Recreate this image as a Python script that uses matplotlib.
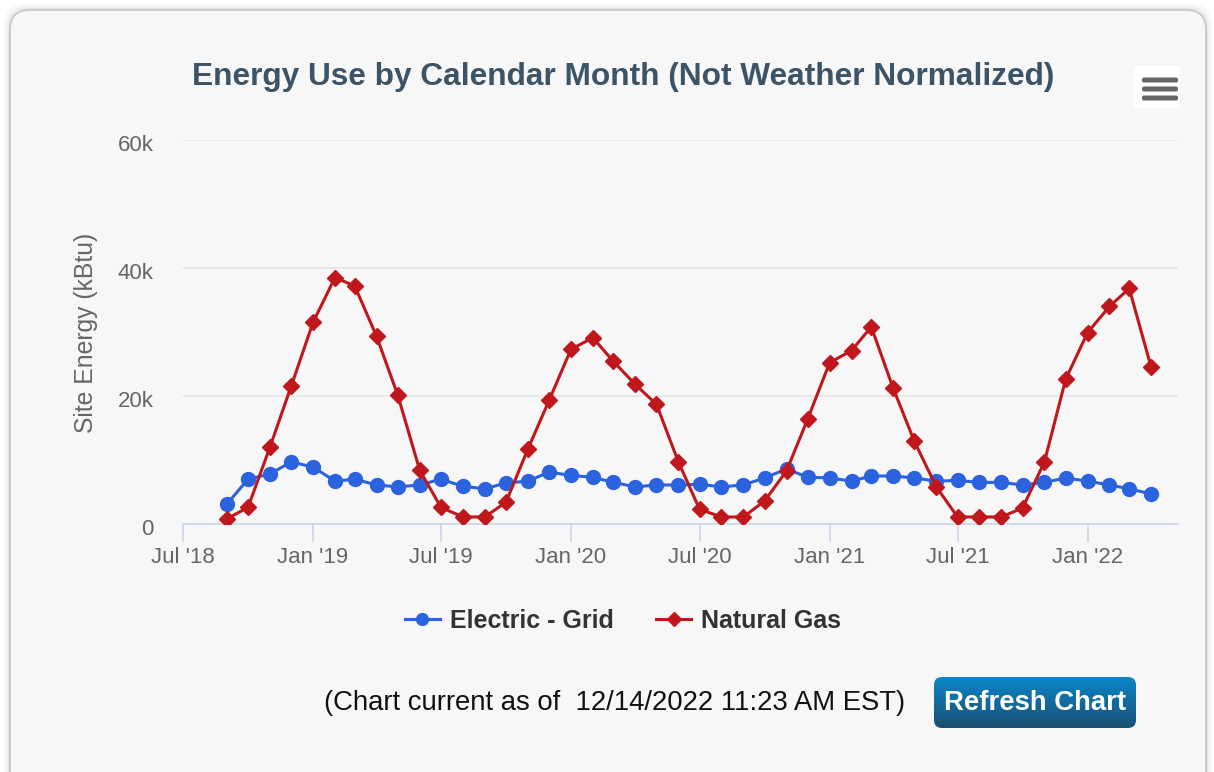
import numpy as np
import pandas as pd
import matplotlib
matplotlib.use("Agg")
import matplotlib.pyplot as plt
import matplotlib.dates as mdates
import matplotlib.transforms as mtransforms
from matplotlib.patches import FancyBboxPatch, Rectangle

plt.rcParams['font.family'] = ['Liberation Sans', 'DejaVu Sans']

# monthly site energy, kBtu (Sep 2018 .. Apr 2022)
months = pd.date_range('2018-09-01', periods=44, freq='MS')
electric = [3.1, 7.0, 7.8, 9.7, 8.9, 6.7, 7.0, 6.1, 5.8, 6.1, 7.0, 5.9,
            5.5, 6.4, 6.7, 8.1, 7.6, 7.3, 6.5, 5.8, 6.1, 6.1, 6.2, 5.8,
            6.1, 7.2, 8.6, 7.3, 7.2, 6.7, 7.5, 7.5, 7.2, 6.7, 6.8, 6.5,
            6.5, 6.1, 6.5, 7.2, 6.7, 6.1, 5.5, 4.7]
gas = [0.8, 2.6, 12.0, 21.5, 31.5, 38.5, 37.2, 29.3, 20.1, 8.4, 2.6, 1.1,
       1.1, 3.4, 11.7, 19.3, 27.3, 29.1, 25.4, 21.8, 18.7, 9.7, 2.3, 1.1,
       1.1, 3.6, 8.3, 16.4, 25.2, 27.1, 30.8, 21.2, 12.9, 5.8, 1.1, 1.1,
       1.1, 2.5, 9.7, 22.6, 29.9, 34.0, 36.8, 24.5]
electric = np.array(electric) * 1000
gas = np.array(gas) * 1000

title = "Energy Use by Calendar Month (Not Weather Normalized)"
footer = "(Chart current as of  12/14/2022 11:23 AM EST)"

W, H = 1214, 772
fig = plt.figure(figsize=(W / 100, H / 100), dpi=100)
fig.patch.set_facecolor('white')

# background card, drawn in pixel units
bg = fig.add_axes([0, 0, 1, 1], zorder=-10)
bg.set_xlim(0, W)
bg.set_ylim(H, 0)
bg.axis('off')
for off, a in [(6, 0.05), (4, 0.07), (2, 0.10)]:
    bg.add_patch(FancyBboxPatch((10 - off, 10 - off), 1196 + 2 * off, 800,
                                boxstyle="round,pad=0,rounding_size=22",
                                fc='#888888', ec='none', alpha=a))
bg.add_patch(FancyBboxPatch((10, 10), 1196, 800,
                            boxstyle="round,pad=0,rounding_size=20",
                            fc='#f7f7f7', ec='#c8c8c8', lw=1.2))
# menu icon
bg.add_patch(Rectangle((1134, 66), 46, 42, fc='white', ec='none'))
for yy in (80, 89, 98):
    bg.add_patch(FancyBboxPatch((1142, yy - 2.5), 36, 5,
                                boxstyle="round,pad=0,rounding_size=2",
                                fc='#666666', ec='none'))

# main plot
ax = fig.add_axes([183 / W, 1 - 524 / H, (1178 - 183) / W, (524 - 140) / H])
ax.patch.set_alpha(0)
ax.plot(months, electric, color='#2b62dd', lw=2.2, marker='o', ms=10,
        label='Electric - Grid', zorder=3)
ax.plot(months, gas, color='#c0171c', lw=2.2, marker='D', ms=8.5,
        label='Natural Gas', zorder=4)

ax.set_xlim(pd.Timestamp('2018-07-01'), pd.Timestamp('2022-05-09'))
ax.set_ylim(0, 60000)
ax.set_yticks([0, 20000, 40000, 60000])
ax.set_yticklabels(['0', '20k', '40k', '60k'])
ax.xaxis.set_major_locator(mdates.MonthLocator(bymonth=[1, 7]))
ax.xaxis.set_major_formatter(mdates.DateFormatter("%b '%y"))

ax.grid(axis='y', color='#e6e6e6', lw=1.2)
ax.set_axisbelow(True)
for s in ('top', 'right', 'left'):
    ax.spines[s].set_visible(False)
ax.spines['bottom'].set_color('#ccd6eb')
ax.spines['bottom'].set_linewidth(1.2)
ax.tick_params(axis='x', length=13, width=1.2, color='#ccd6eb',
               labelcolor='#666666', labelsize=16, pad=3.5)
ax.tick_params(axis='y', length=0, labelcolor='#666666', labelsize=16, pad=21)
# y labels sit a few pixels below their gridlines
shift = mtransforms.ScaledTranslation(0, -3 / 100, fig.dpi_scale_trans)
for lab in ax.get_yticklabels():
    lab.set_transform(lab.get_transform() + shift)

fig.text(623 / W, 1 - 77 / H, title, ha='center', va='center',
         fontsize=22.8, fontweight='bold', color='#3d5366')
fig.text(86 / W, 1 - 333 / H, 'Site Energy (kBtu)', rotation=90,
         ha='center', va='center', fontsize=17.8, color='#666666')

leg = fig.legend(loc='center', bbox_to_anchor=(623 / W, 1 - 621 / H), ncol=2,
                 frameon=False, fontsize=18, handlelength=1.4,
                 handletextpad=0.4, columnspacing=1.7, markerscale=0.85)
for t in leg.get_texts():
    t.set_color('#333333')
    t.set_fontweight('bold')

fig.text(905 / W, 1 - 703 / H, footer, ha='right', va='center',
         fontsize=19.8, color='#111111')

# refresh button with gradient
bx = fig.add_axes([934 / W, 1 - 728 / H, 202 / W, 51 / H])
bx.axis('off')
grad = np.linspace(0, 1, 64).reshape(-1, 1)
cmap = matplotlib.colors.LinearSegmentedColormap.from_list(
    'btn', ['#0a86c8', '#1b4f73'])
img = bx.imshow(grad, extent=[0, 1, 0, 1], aspect='auto', cmap=cmap,
                origin='upper')
clip = FancyBboxPatch((0, 0), 1, 1, boxstyle="round,pad=0,rounding_size=0.04",
                      mutation_aspect=202 / 51, transform=bx.transAxes,
                      fc='none', ec='none')
bx.add_patch(clip)
img.set_clip_path(clip)
bx.set_xlim(0, 1)
bx.set_ylim(0, 1)
bx.text(0.5, 0.5, 'Refresh Chart', ha='center', va='center', color='white',
        fontsize=19.8, fontweight='bold', transform=bx.transAxes)

fig.savefig('out.png', dpi=100)
